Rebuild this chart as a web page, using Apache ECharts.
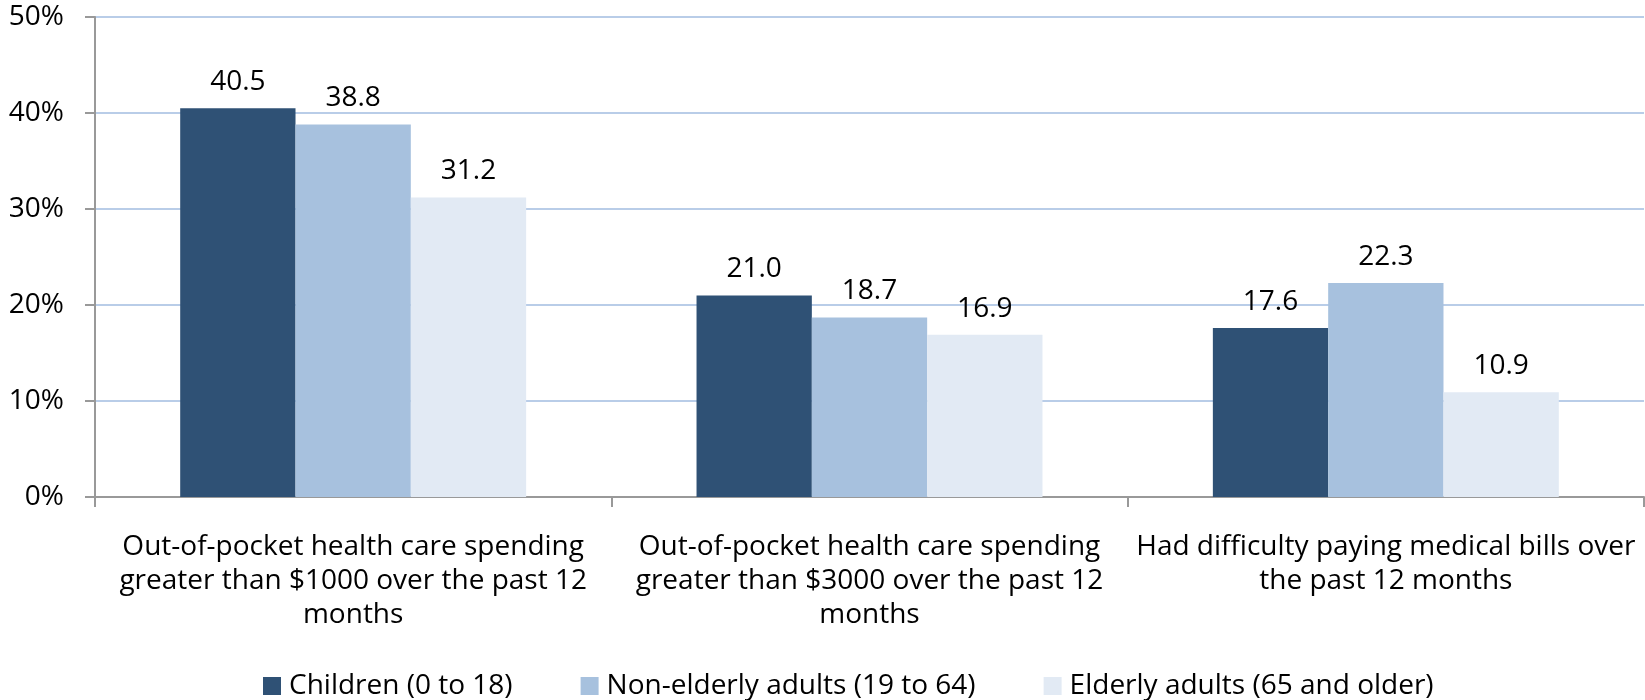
<!DOCTYPE html>
<html><head><meta charset="utf-8">
<script src="https://cdn.jsdelivr.net/npm/echarts@6/dist/echarts.min.js"></script>
<style>html,body{margin:0;padding:0;background:#fff}#c{width:1645px;height:700px}</style>
</head><body><div id="c"></div>
<script>
const categories = [
  "Out-of-pocket health care spending\ngreater than $1000 over the past 12\nmonths",
  "Out-of-pocket health care spending\ngreater than $3000 over the past 12\nmonths",
  "Had difficulty paying medical bills over\nthe past 12 months"
];
const seriesNames = ["Children (0 to 18)", "Non-elderly adults (19 to 64)", "Elderly adults (65 and older)"];
const children = [40.5, 21.0, 17.6];
const nonElderly = [38.8, 18.7, 22.3];
const elderly = [31.2, 16.9, 10.9];
const colors = ["#2F5175", "#A7C1DE", "#E2EAF4"];
const FONT = "Open Sans";
const chart = echarts.init(document.getElementById('c'), null, {renderer: 'canvas'});
function mk(name, data, color) {
  return {
    name, type: 'bar', data, barGap: '0%', barCategoryGap: '33%',
    itemStyle: {color},
    label: {show: true, position: 'top', distance: 12, color: '#000', fontFamily: FONT, fontSize: 28,
      formatter: p => p.value.toFixed(1)}
  };
}
chart.setOption({
  animation: false,
  textStyle: {fontFamily: FONT},
  grid: {left: 95, right: 1, top: 17, bottom: 203, containLabel: false},
  legend: {
    top: 667, left: 258, itemWidth: 18, itemHeight: 18, itemGap: 68,
    icon: 'rect',
    textStyle: {fontFamily: FONT, fontSize: 28, color: '#000', padding: [0, 0, 0, 3]},
    data: seriesNames
  },
  xAxis: {
    type: 'category', data: categories,
    axisLine: {lineStyle: {color: '#999', width: 2}},
    axisTick: {show: true, length: 10, lineStyle: {color: '#999', width: 2}},
    axisLabel: {color: '#000', fontFamily: FONT, fontSize: 28, lineHeight: 34, margin: 33, interval: 0}
  },
  yAxis: {
    type: 'value', min: 0, max: 50, interval: 10,
    axisLine: {show: true, lineStyle: {color: '#999', width: 2}},
    axisTick: {show: true, length: 10, lineStyle: {color: '#999', width: 2}},
    axisLabel: {color: '#000', fontFamily: FONT, fontSize: 28, margin: 31, formatter: v => v + '%'},
    splitLine: {lineStyle: {color: '#B9CDE8', width: 2}}
  },
  series: [mk(seriesNames[0], children, colors[0]), mk(seriesNames[1], nonElderly, colors[1]), mk(seriesNames[2], elderly, colors[2])]
});
</script></body></html>
